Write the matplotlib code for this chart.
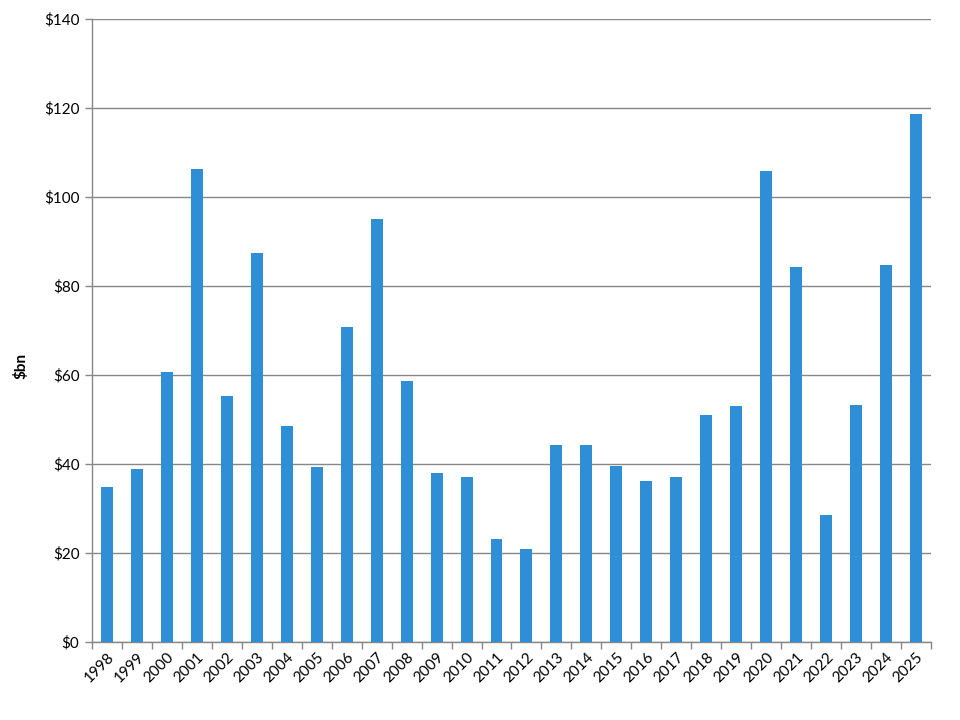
import numpy as np
import matplotlib
matplotlib.use("Agg")
import matplotlib.pyplot as plt
from matplotlib.ticker import FixedLocator

plt.rcParams['font.family'] = ['Lato', 'DejaVu Sans']

# yearly values in $bn
years = [str(y) for y in range(1998, 2026)]
values = [34.8, 38.9, 60.7, 106.3, 55.3, 87.4, 48.5, 39.3, 70.8, 95.1,
          58.7, 38.0, 37.1, 23.1, 20.9, 44.3, 44.3, 39.6, 36.2, 37.1,
          51.0, 53.0, 105.8, 84.3, 28.5, 53.3, 84.7, 118.7]
y_ticks = [0, 20, 40, 60, 80, 100, 120, 140]

grey = "#878787"

fig = plt.figure(figsize=(9.6, 7.2), dpi=100)
ax = fig.add_axes([0.0958, 0.108, 0.874, 0.866])

x = np.arange(len(years))
ax.bar(x, values, width=0.4, color="#2e8ed6", zorder=3)

ax.set_xlim(-0.5, len(years) - 0.5)
ax.set_ylim(0, 140)
ax.set_yticks(y_ticks)
ax.set_yticklabels(["\\$%d" % v for v in y_ticks], fontsize=11)
ax.yaxis.grid(True, color=grey, linewidth=1, zorder=0)

# labels at bar centres, tick marks on the category boundaries
ax.set_xticks(x)
ax.set_xticklabels(years, rotation=45, ha="right", rotation_mode="anchor", fontsize=11)
ax.tick_params(axis="x", which="major", length=0, pad=6)
ax.xaxis.set_minor_locator(FixedLocator(np.arange(-0.5, len(years), 1.0)))
ax.tick_params(axis="x", which="minor", length=5, color=grey, width=1)
ax.tick_params(axis="y", length=5, color=grey, width=1, pad=4)

for s in ["top", "right"]:
    ax.spines[s].set_visible(False)
for s in ["left", "bottom"]:
    ax.spines[s].set_color(grey)
    ax.spines[s].set_linewidth(1)

ax.set_ylabel("\\$bn", fontsize=11, fontweight="bold")
ax.yaxis.set_label_coords(-0.076, 0.443)

fig.savefig("out.png", dpi=100)
